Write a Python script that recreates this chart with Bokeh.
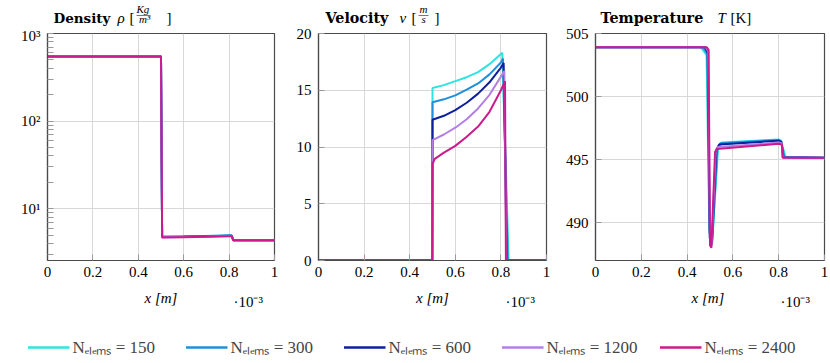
from bokeh.plotting import figure
from bokeh.models import Range1d, FixedTicker, Label, Legend, LegendItem
from bokeh.layouts import row, column
from bokeh.embed import file_html
from bokeh.resources import INLINE

# ---------------- data ----------------
series_labels = ["Nₑₗₑₘₛ = 150", "Nₑₗₑₘₛ = 300", "Nₑₗₑₘₛ = 600",
                 "Nₑₗₑₘₛ = 1200", "Nₑₗₑₘₛ = 2400"]
colors = ["#2fe3e0", "#1f8fd8", "#0d1f9e", "#b47ee5", "#cc1a8c"]

x_ticks = [0, 0.2, 0.4, 0.6, 0.8, 1.0]
x_tick_labels = ["0", "0.2", "0.4", "0.6", "0.8", "1"]

# density (x in 1e-3 m)
rho_x = [0, 0.5, 0.505, 0.6, 0.7, 0.8, 0.812, 0.818, 1.0]
rho_150 = [548, 548, 4.80, 4.84, 4.89, 4.95, 4.95, 4.36, 4.36]
rho_300 = [548, 548, 4.78, 4.82, 4.87, 4.93, 4.93, 4.36, 4.36]
rho_600 = [548, 548, 4.74, 4.79, 4.84, 4.91, 4.91, 4.36, 4.36]
rho_1200 = [548, 548, 4.71, 4.76, 4.81, 4.88, 4.88, 4.36, 4.36]
rho_2400 = [548, 548, 4.68, 4.73, 4.78, 4.85, 4.85, 4.36, 4.36]
rho_ticks = [10, 100, 1000]
rho_minor = [3, 4, 5, 6, 7, 8, 9, 20, 30, 40, 50, 60, 70, 80, 90,
             200, 300, 400, 500, 600, 700, 800, 900]
rho_tick_labels = {10: "10¹", 100: "10²", 1000: "10³"}

# velocity
v_x_150 = [0, 0.499, 0.5, 0.55, 0.6, 0.65, 0.7, 0.75, 0.8, 0.806, 0.834, 1.0]
v_150 = [0.05, 0.05, 15.2, 15.45, 15.8, 16.15, 16.6, 17.3, 18.2, 18.3, 0.05, 0.05]
v_x_300 = [0, 0.499, 0.5, 0.55, 0.6, 0.65, 0.7, 0.75, 0.8, 0.809, 0.83, 1.0]
v_300 = [0.05, 0.05, 13.95, 14.2, 14.55, 15.05, 15.6, 16.4, 17.45, 17.8, 0.05, 0.05]
v_x_600 = [0, 0.499, 0.5, 0.55, 0.6, 0.65, 0.7, 0.75, 0.8, 0.812, 0.826, 1.0]
v_600 = [0.05, 0.05, 12.4, 12.75, 13.25, 13.9, 14.7, 15.7, 17.0, 17.4, 0.05, 0.05]
v_x_1200 = [0, 0.499, 0.5, 0.55, 0.6, 0.65, 0.7, 0.75, 0.8, 0.815, 0.824, 1.0]
v_1200 = [0.05, 0.05, 10.6, 11.1, 11.7, 12.45, 13.4, 14.6, 16.2, 16.7, 0.05, 0.05]
v_x_2400 = [0, 0.499, 0.5, 0.51, 0.55, 0.6, 0.65, 0.7, 0.75, 0.8, 0.818, 0.822, 1.0]
v_2400 = [0.05, 0.05, 8.5, 8.95, 9.5, 10.1, 10.9, 11.8, 13.1, 15.0, 15.8, 0.05, 0.05]
v_ticks = [0, 5, 10, 15, 20]

# temperature
T_x_150 = [0, 0.46, 0.485, 0.497, 0.51, 0.535, 0.55, 0.8, 0.81, 0.83, 1.0]
T_150 = [503.9, 503.9, 503.3, 489.5, 488.7, 495.8, 496.35, 496.6, 496.5, 495.2, 495.15]
T_x_300 = [0, 0.47, 0.488, 0.498, 0.51, 0.532, 0.545, 0.8, 0.81, 0.825, 1.0]
T_300 = [503.9, 503.9, 503.4, 489.2, 488.5, 495.8, 496.3, 496.55, 496.45, 495.2, 495.15]
T_x_600 = [0, 0.478, 0.49, 0.499, 0.508, 0.528, 0.54, 0.8, 0.812, 0.82, 1.0]
T_600 = [503.9, 503.9, 503.5, 488.8, 488.3, 495.8, 496.2, 496.5, 496.4, 495.18, 495.15]
T_x_1200 = [0, 0.482, 0.492, 0.5, 0.507, 0.525, 0.535, 0.8, 0.813, 0.818, 1.0]
T_1200 = [503.9, 503.9, 503.6, 488.5, 488.15, 495.7, 496.0, 496.35, 496.3, 495.16, 495.15]
T_x_2400 = [0, 0.486, 0.494, 0.5, 0.506, 0.522, 0.53, 0.8, 0.814, 0.817, 1.0]
T_2400 = [503.9, 503.9, 503.7, 488.2, 488.0, 495.6, 495.85, 496.25, 496.2, 495.15, 495.15]
T_ticks = [490, 495, 500, 505]

# ---------------- styling ----------------
FONT = "Liberation Serif"
TFONT = "DejaVu Serif"
FS = "15px"
HS = "14.3px"
FH = 227
GRID = "#d8d8d8"
FRAME = "#4a4a4a"
LW = 2.0
TOTAL_W = 830
TOP_H = 27
PANEL_BOTTOM = 286
PAGE_H = 363
NAN = float("nan")
Y_FIX = 4.5  # labels render a little lower than their nominal baseline


def make_fig(frame_w, left, right, y_range, y_type="linear"):
    p = figure(frame_width=frame_w, frame_height=FH, x_range=Range1d(0, 1),
               y_range=y_range, y_axis_type=y_type, toolbar_location=None,
               output_backend="svg", min_border_left=left, min_border_right=right,
               min_border_top=6, min_border_bottom=26, title=None)
    p.outline_line_color = FRAME
    p.outline_line_width = 1.2
    p.background_fill_color = "white"
    p.border_fill_color = "white"
    p.xaxis.ticker = FixedTicker(ticks=x_ticks)
    p.xaxis.major_label_overrides = {t: l for t, l in zip(x_ticks, x_tick_labels)}
    for ax in (p.xaxis[0], p.yaxis[0]):
        ax.axis_line_color = FRAME
        ax.axis_line_width = 1.2
        ax.major_tick_in = 6
        ax.major_tick_out = 0
        ax.minor_tick_in = 0
        ax.minor_tick_out = 0
        ax.major_tick_line_color = "#999999"
        ax.major_label_text_font = FONT
        ax.major_label_text_font_size = FS
        ax.major_label_text_color = "black"
        ax.major_label_standoff = 7
    p.xaxis.major_label_standoff = 6
    p.grid.grid_line_color = GRID
    p.grid.grid_line_width = 1
    return p


def strip_fig(height, y_top, y_bottom):
    f = figure(width=TOTAL_W, height=height, toolbar_location=None,
               output_backend="svg", x_range=Range1d(0, TOTAL_W),
               y_range=Range1d(y_bottom, y_top), min_border=0, title=None,
               x_axis_location=None, y_axis_location=None)
    f.grid.visible = False
    f.outline_line_color = None
    f.background_fill_color = "white"
    f.border_fill_color = "white"
    return f


def lab(f, x, y, text, size=FS, style="normal", font=FONT, align="left"):
    f.add_layout(Label(x=x, y=y - Y_FIX, text=text, text_font=font,
                       text_font_size=size, text_font_style=style,
                       text_color="black", text_align=align,
                       text_baseline="alphabetic"))


# panel 1: density
p1 = make_fig(227, 47, 16, Range1d(2.56, 1000), "log")
p1.yaxis.ticker = FixedTicker(ticks=rho_ticks, minor_ticks=rho_minor)
p1.yaxis.major_label_overrides = rho_tick_labels
p1.yaxis.minor_tick_in = 6
p1.yaxis.minor_tick_line_color = "#999999"
p1.ygrid.minor_grid_line_color = None
for xs, ys, c in zip([rho_x] * 5, [rho_150, rho_300, rho_600, rho_1200, rho_2400], colors):
    p1.line(xs, ys, line_color=c, line_width=LW)

# panel 2: velocity
p2 = make_fig(228, 28, 16, Range1d(0, 20))
p2.yaxis.ticker = FixedTicker(ticks=v_ticks)
for xs, ys, c in zip([v_x_150, v_x_300, v_x_600, v_x_1200, v_x_2400],
                     [v_150, v_300, v_600, v_1200, v_2400], colors):
    p2.line(xs, ys, line_color=c, line_width=LW)

# panel 3: temperature
p3 = make_fig(229, 31, 8, Range1d(487, 505))
p3.yaxis.ticker = FixedTicker(ticks=T_ticks)
for xs, ys, c in zip([T_x_150, T_x_300, T_x_600, T_x_1200, T_x_2400],
                     [T_150, T_300, T_600, T_1200, T_2400], colors):
    p3.line(xs, ys, line_color=c, line_width=LW)

# titles strip (data y == page y)
top = strip_fig(TOP_H, 0, TOP_H)
lab(top, 53, 21.5, "Density", "13.5px", "bold", TFONT)
lab(top, 117, 21.5, "ρ", "15px", "italic")
lab(top, 129, 21.5, "[", "15px")
lab(top, 136, 12.5, "Kg", "11px", "italic")
lab(top, 136, 18, "—", "14px")
lab(top, 138.5, 22.5, "m³", "11px", "italic")
lab(top, 166, 21.5, "]", "15px")

lab(top, 325, 21.5, "Velocity", HS, "bold", TFONT)
lab(top, 399, 21.5, "v", "15px", "italic")
lab(top, 411, 21.5, "[", "15px")
lab(top, 419, 12.5, "m", "11px", "italic")
lab(top, 418, 18, "—", "10px")
lab(top, 421, 22.5, "s", "11px", "italic")
lab(top, 434, 21.5, "]", "15px")

lab(top, 600, 21.5, "Temperature", HS, "bold", TFONT)
lab(top, 717, 21.5, "T", "15px", "italic")
lab(top, 730, 21.5, "[K]", "15px")

# bottom strip: axis labels, multipliers, legend (data y == page y)
bot = strip_fig(PAGE_H - PANEL_BOTTOM, PANEL_BOTTOM, PAGE_H)
for cx in (160.5, 432, 707.5):
    lab(bot, cx, 302, "x [m]", FS, "italic", align="center")
for mx in (233, 505, 780):
    lab(bot, mx, 306, "·10⁻³", FS)

items = []
for lbl, c in zip(series_labels, colors):
    r = bot.line([NAN, NAN], [NAN, NAN], line_color=c, line_width=2.5)
    items.append(LegendItem(label=lbl, renderers=[r]))
leg = Legend(items=items, orientation="horizontal", location="bottom_center",
             label_text_font=FONT, label_text_font_size="17px", glyph_width=42,
             label_standoff=3, label_width=98, spacing=15,
             border_line_color=None, background_fill_alpha=0, padding=0, margin=5)
bot.add_layout(leg)

layout = column(top, row(p1, p2, p3), bot)
open("out.html", "w").write(file_html(layout, INLINE))
